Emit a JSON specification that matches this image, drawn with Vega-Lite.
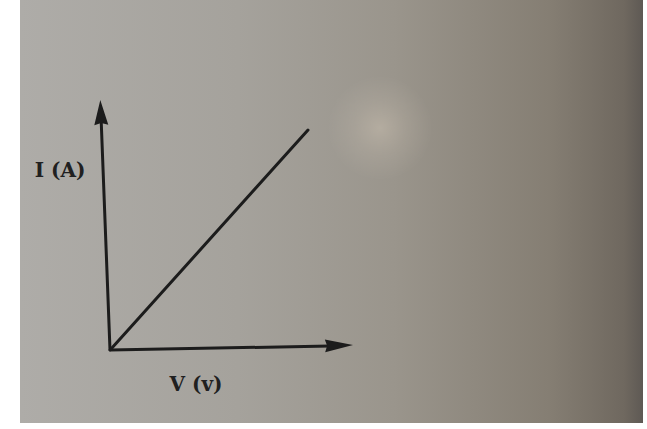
{
  "$schema": "https://vega.github.io/schema/vega-lite/v6.json",
  "width": 647,
  "height": 429,
  "autosize": {"type": "fit", "contains": "padding"},
  "padding": 0,
  "background": "#ffffff",
  "config": {"view": {"stroke": null}},
  "datasets": {
    "sheet": [{"x0": -9.0, "x1": 53.3, "y0": -7.3, "y1": 35}],
    "shine": [{"v": 27, "i": 22.2}],
    "segments": [
      {"part": "I axis", "v0": 0, "i0": 0, "v1": -0.9, "i1": 23.4},
      {"part": "V axis", "v0": 0, "i0": 0, "v1": 22.0, "i1": 0.4},
      {"part": "I-V line", "v0": 0.1, "i0": 0.1, "v1": 19.8, "i1": 22}
    ],
    "headI": [{"v": -0.92, "i": 23.75}],
    "headV": [{"v": 22.9, "i": 0.45}],
    "labels": [
      {"text": "I (A)", "v": -5.0, "i": 17.9},
      {"text": "V (v)", "v": 8.6, "i": -3.5}
    ]
  },
  "encoding": {},
  "layer": [
    {
      "data": {"name": "sheet"},
      "mark": {
        "type": "rect",
        "color": {
          "gradient": "linear",
          "x1": 0, "y1": 0, "x2": 1, "y2": 0,
          "stops": [
            {"offset": 0, "color": "#aeaca8"},
            {"offset": 0.35, "color": "#a5a29c"},
            {"offset": 0.6, "color": "#9a958c"},
            {"offset": 0.85, "color": "#857e73"},
            {"offset": 0.97, "color": "#6f685f"},
            {"offset": 1, "color": "#5e5954"}
          ]
        }
      },
      "encoding": {
        "x": {"field": "x0", "type": "quantitative", "scale": {"domain": [-11, 53.7], "nice": false, "zero": false}, "axis": null},
        "x2": {"field": "x1"},
        "y": {"field": "y0", "type": "quantitative", "scale": {"domain": [-7.9, 35], "nice": false, "zero": false}, "axis": null},
        "y2": {"field": "y1"}
      }
    },
    {
      "data": {"name": "shine"},
      "mark": {
        "type": "point",
        "shape": "circle",
        "filled": true,
        "size": 11000,
        "strokeWidth": 0,
        "opacity": 1,
        "color": {
          "gradient": "radial",
          "x1": 0.5, "y1": 0.5, "r1": 0,
          "x2": 0.5, "y2": 0.5, "r2": 0.5,
          "stops": [
            {"offset": 0, "color": "rgba(232,218,198,0.32)"},
            {"offset": 0.5, "color": "rgba(225,212,195,0.14)"},
            {"offset": 1, "color": "rgba(220,210,195,0)"}
          ]
        }
      },
      "encoding": {
        "x": {"field": "v", "type": "quantitative"},
        "y": {"field": "i", "type": "quantitative"}
      }
    },
    {
      "data": {"name": "segments"},
      "mark": {"type": "rule", "color": "#1c1c1c", "strokeWidth": 3, "strokeCap": "round"},
      "encoding": {
        "x": {"field": "v0", "type": "quantitative"},
        "y": {"field": "i0", "type": "quantitative"},
        "x2": {"field": "v1"},
        "y2": {"field": "i1"}
      }
    },
    {
      "data": {"name": "headI"},
      "mark": {
        "type": "point",
        "shape": "M0,-1L0.56,1L0,0.85L-0.56,1Z",
        "filled": true,
        "size": 625,
        "angle": -2.3,
        "opacity": 1,
        "color": "#1c1c1c"
      },
      "encoding": {
        "x": {"field": "v", "type": "quantitative"},
        "y": {"field": "i", "type": "quantitative"}
      }
    },
    {
      "data": {"name": "headV"},
      "mark": {
        "type": "point",
        "shape": "M0,-1L0.46,1L0,0.85L-0.46,1Z",
        "filled": true,
        "size": 784,
        "angle": 88.4,
        "opacity": 1,
        "color": "#1c1c1c"
      },
      "encoding": {
        "x": {"field": "v", "type": "quantitative"},
        "y": {"field": "i", "type": "quantitative"}
      }
    },
    {
      "data": {"name": "labels"},
      "mark": {
        "type": "text",
        "font": "DejaVu Serif",
        "fontWeight": "bold",
        "fontSize": 20,
        "color": "#202020",
        "align": "center",
        "baseline": "middle"
      },
      "encoding": {
        "x": {"field": "v", "type": "quantitative"},
        "y": {"field": "i", "type": "quantitative"},
        "text": {"field": "text"}
      }
    }
  ]
}
